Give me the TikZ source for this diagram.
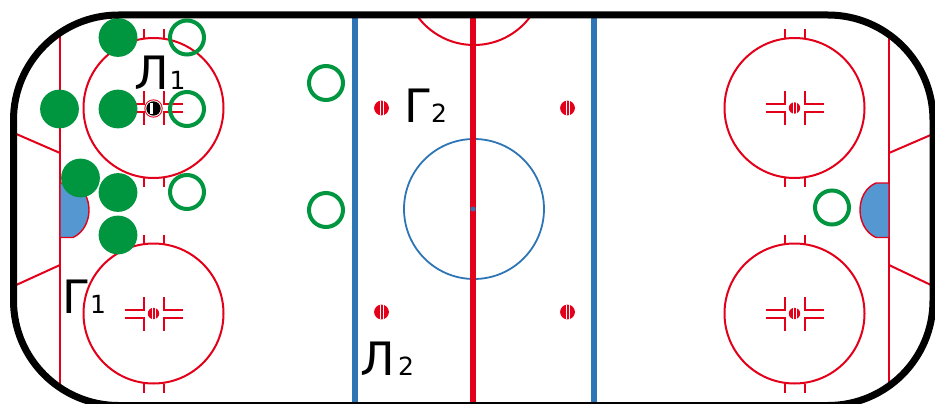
\documentclass[tikz,border=0pt]{standalone}
\usepackage{fontspec}
\setmainfont{DejaVu Sans}
\definecolor{rinkred}{HTML}{E2001A}
\definecolor{rinkblue}{HTML}{2E75B6}
\definecolor{creaseblue}{HTML}{5597D0}
\definecolor{playergreen}{HTML}{009640}
\tikzset{
  rinkline/.style={draw=rinkred,line width=2pt},
  zoneline/.style={draw=rinkblue,line width=6pt},
  playerfull/.style={fill=playergreen,draw=none},
  playeropen/.style={draw=playergreen,line width=4pt},
  crease/.style={fill=creaseblue,draw=rinkred,line width=1.4pt},
  rinklabel/.style={anchor=base west,inner sep=0pt,outer sep=0pt,text=black},
}
\newcommand{\puckdot}[3]{% x, y, radius
  \fill[rinkred] (#1,#2) circle (#3);
  \draw[white,line width=0.6pt] (#1-1.5,#2-#3) -- (#1-1.5,#2+#3);
  \draw[white,line width=0.6pt] (#1+1.5,#2-#3) -- (#1+1.5,#2+#3);
}
\newcommand{\faceoffcircle}[2]{% x, y
  \draw[rinkline] (#1,#2) circle (70);
  \foreach \s in {-1,1}{
    \draw[rinkline] (#1+\s*10,#2-70) -- (#1+\s*10,#2-79);
    \draw[rinkline] (#1+\s*10,#2+70) -- (#1+\s*10,#2+79);
    \draw[rinkline] (#1+\s*29,#2-4) -- (#1+\s*10,#2-4) -- (#1+\s*10,#2-17);
    \draw[rinkline] (#1+\s*29,#2+4) -- (#1+\s*10,#2+4) -- (#1+\s*10,#2+17);
  }
}
\begin{document}
\begin{tikzpicture}[x=1pt,y=-1pt]
  \useasboundingbox (0,0) rectangle (935,404);
  \clip (0,0) rectangle (935,404);
  \fill[white] (0,0) rectangle (935,404);
  % faceoff circles
  \faceoffcircle{153.5}{108}
  \faceoffcircle{153.5}{313.5}
  \faceoffcircle{794.5}{108}
  \faceoffcircle{794.5}{313.5}
  \puckdot{153.5}{313.5}{5.7}
  \puckdot{794.5}{108}{5.7}
  \puckdot{794.5}{313.5}{5.7}
  \puckdot{381.5}{108}{7.4}
  \puckdot{567.5}{108}{7.4}
  \puckdot{381.5}{312}{7.4}
  \puckdot{567.5}{312}{7.4}
  % black puck
  \fill[rinkred] (153.5,108.5) circle (9.2);
  \fill[white] (153.5,108.5) circle (8.2);
  \fill[black] (153.5,108.5) circle (7.2);
  \fill[white] (150,103) rectangle (152.8,114);
  % centre
  \draw[draw=rinkblue,line width=1.8pt] (474,209) circle (70);
  \begin{scope}
    \clip (400,15) rectangle (550,60);
    \draw[rinkline] (474,-25) circle (70);
  \end{scope}
  \draw[zoneline] (355,15) -- (355,404);
  \draw[zoneline] (593.5,15) -- (593.5,404);
  \draw[draw=rinkred,line width=6pt] (473,15) -- (473,404);
  \fill[rinkblue] (473,209) circle (2.5);
  % goal lines
  \draw[rinkline] (60,33) -- (60,386);
  \draw[rinkline] (889,33) -- (889,386);
  \draw[rinkline] (14,133) -- (60,153);
  \draw[rinkline] (14,286) -- (60,265);
  \draw[rinkline] (933,134) -- (889,153);
  \draw[rinkline] (933,286) -- (889,265);
  % creases
  \draw[crease] (60,183) -- (73,183) .. controls (83,187) and (89,198) .. (89,210)
     .. controls (89,222) and (83,233) .. (73,237.5) -- (60,237.5) -- cycle;
  \draw[crease] (889,183) -- (876,183) .. controls (866,187) and (860,198) .. (860,210)
     .. controls (860,222) and (866,233) .. (876,237.5) -- (889,237.5) -- cycle;
  % players
  \foreach \px/\py in {118/37.5,59.5/109,118/109,80.5/178,118/192.5,118/235}
    \fill[playerfull] (\px,\py) circle (19.4);
  \foreach \px/\py in {187/37.5,187/109,187/192,326/83,326/210,832/207.5}
    \draw[playeropen] (\px,\py) circle (17);
  % boards
  \draw[black,line width=7pt,rounded corners=105pt] (13.5,15) rectangle (933,405.5);
  % labels
  \node[rinklabel] (lone) at (134,90)
    {\fontsize{46}{46}\selectfont Л\kern1pt\fontsize{25}{25}\selectfont 1};
  \node[rinklabel] (gone) at (62,313.5)
    {\fontsize{46}{46}\selectfont Г\kern0pt\fontsize{25}{25}\selectfont 1};
  \node[rinklabel] (gtwo) at (404,122.5)
    {\fontsize{46}{46}\selectfont Г\kern-1pt\fontsize{25}{25}\selectfont 2};
  \node[rinklabel] (ltwo) at (360.5,375)
    {\fontsize{46}{46}\selectfont Л\kern3pt\fontsize{25}{25}\selectfont 2};
\end{tikzpicture}
\end{document}
